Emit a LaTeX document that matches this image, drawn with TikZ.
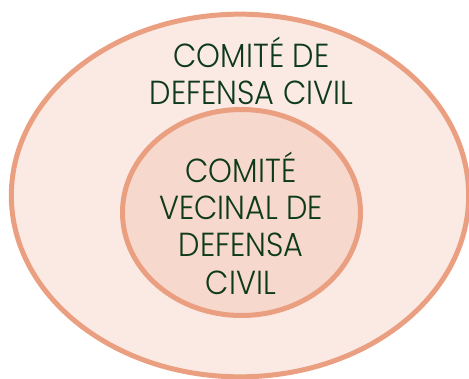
\documentclass[tikz,border=0pt]{standalone}
\usepackage{fontspec}
\setmainfont{Poppins}[UprightFont=* Light, FakeStretch=0.91]
\usepackage{xcolor}
\usepackage{tikz}
\usetikzlibrary{shapes.geometric}
\definecolor{ringline}{HTML}{EA9F80}
\definecolor{outerfill}{HTML}{FBEAE3}
\definecolor{innerfill}{HTML}{F7D8CC}
\definecolor{textgreen}{HTML}{0E3A1C}

\begin{document}
\begin{tikzpicture}[
    x=0.75pt, y=-0.75pt,
    ring/.style={ellipse, draw=ringline, line width=3.75pt, inner sep=0pt},
    title/.style={text=textgreen, align=center,
                  font=\fontsize{25}{28}\selectfont}
  ]
    \useasboundingbox (0,0) rectangle (469,379);
    \node[ring, fill=outerfill, minimum width=343pt, minimum height=272pt] (outer) at (240,195.5) {};
    \node[ring, fill=innerfill, minimum width=178.5pt, minimum height=154.5pt] (inner) at (241.5,212.5) {};
    \node[title] (outername) at (251.5,71) {COMITÉ DE\\DEFENSA CIVIL};
    \node[title] (innername) at (241,223) {COMITÉ\\VECINAL DE\\DEFENSA\\CIVIL};
  \end{tikzpicture}
\end{document}
